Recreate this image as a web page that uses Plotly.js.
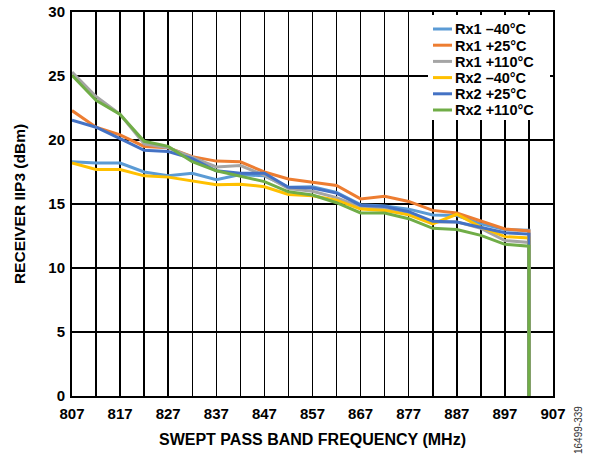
<!DOCTYPE html>
<html>
<head>
<meta charset="utf-8">
<script src="https://cdn.plot.ly/plotly-3.0.1.min.js"></script>
<style>
html,body{margin:0;padding:0;background:#fff;}
#chart{width:589px;height:457px;}
</style>
</head>
<body>
<div id="chart"></div>
<script>
// Frequencies (MHz); last point repeats 902 where every trace drops to 0
const freq = [807,812,817,822,827,832,837,842,847,852,857,862,867,872,877,882,887,892,897,902,902];

const rx1_m40  = [18.3,18.2,18.2,17.5,17.2,17.4,16.9,17.3,17.2,16.3,16.35,15.9,14.95,14.85,14.6,14.15,14.1,13.45,13.0,12.95,0];
const rx1_p25  = [22.3,21.0,20.4,19.5,19.4,18.7,18.35,18.3,17.5,16.95,16.7,16.45,15.4,15.6,15.2,14.5,14.3,13.65,13.05,12.9,0];
const rx1_p110 = [25.3,23.4,22.0,19.7,19.4,18.65,17.9,18.0,17.25,16.2,16.0,15.5,14.75,14.6,14.2,13.6,13.6,13.1,12.15,12.0,0];
const rx2_m40  = [18.2,17.7,17.7,17.2,17.1,16.8,16.5,16.55,16.35,15.75,15.65,15.3,14.6,14.5,14.15,13.45,14.2,13.2,12.45,12.35,0];
const rx2_p25  = [21.55,21.0,20.1,19.2,19.1,18.55,17.6,17.4,17.4,16.3,16.25,15.85,14.9,14.8,14.4,13.65,13.6,13.2,12.75,12.65,0];
const rx2_p110 = [25.05,23.1,22.0,19.9,19.5,18.3,17.6,17.2,16.75,15.95,15.7,15.1,14.3,14.3,13.85,13.1,13.0,12.55,11.85,11.7,0];

const seriesNames = ['Rx1 \u201340\u00b0C','Rx1 +25\u00b0C','Rx1 +110\u00b0C','Rx2 \u201340\u00b0C','Rx2 +25\u00b0C','Rx2 +110\u00b0C'];
const seriesData = [rx1_m40, rx1_p25, rx1_p110, rx2_m40, rx2_p25, rx2_p110];
const seriesColors = ['#5B9BD5','#ED7D31','#A5A5A5','#FFC000','#4472C4','#70AD47'];

const xTickVals = [807,812,817,822,827,832,837,842,847,852,857,862,867,872,877,882,887,892,897,902,907];
const xTickText = ['807','','817','','827','','837','','847','','857','','867','','877','','887','','897','','907'];
const yTickVals = [0,5,10,15,20,25,30];

const FONT = 'Arial, "Liberation Sans", sans-serif';
const W = 589, H = 457;
const M = {l:72, r:36, t:12, b:61};
const PW = W - M.l - M.r, PH = H - M.t - M.b;
// pixel -> paper helpers for the compact legend box
const px = x => (x - M.l) / PW;
const py = y => (H - M.b - y) / PH;

const traces = seriesNames.map((n,i)=>({
  x: freq, y: seriesData[i], name: n, type:'scatter', mode:'lines',
  line:{color:seriesColors[i], width:3}, showlegend:false
}));

// compact legend (white box, line samples, labels)
const shapes = [{
  type:'rect', xref:'paper', yref:'paper', x0:px(428), x1:px(550), y0:py(120), y1:py(15),
  fillcolor:'#fff', line:{width:0}, layer:'above'
}];
const annotations = [];
const rowY0 = 29, rowGap = 16.2;
seriesNames.forEach((n,i)=>{
  const yy = rowY0 + i*rowGap;
  shapes.push({type:'line', xref:'paper', yref:'paper', x0:px(433), x1:px(452), y0:py(yy), y1:py(yy),
    line:{color:seriesColors[i], width:3}, layer:'above'});
  annotations.push({text:'<b>'+n+'</b>', xref:'paper', yref:'paper', x:px(454), y:py(yy+0.5),
    xanchor:'left', yanchor:'middle', showarrow:false, borderpad:0, height:14,
    font:{family:FONT, size:14.5, color:'#000'}});
});
annotations.push({
  text:'16499-339', xref:'paper', yref:'paper', x:px(578), y:py(430),
  xanchor:'center', yanchor:'middle', textangle:-90, showarrow:false,
  font:{family:FONT, size:10, color:'#333'}
});

const layout = {
  width:W, height:H,
  margin:M,
  paper_bgcolor:'#fff', plot_bgcolor:'#fff',
  font:{family:FONT, color:'#000'},
  showlegend:false,
  xaxis:{
    range:[807,907], tickmode:'array', tickvals:xTickVals, ticktext:xTickText,
    showgrid:true, gridcolor:'#000', gridwidth:1.5,
    showline:true, linecolor:'#000', linewidth:2, mirror:true,
    ticks:'', zeroline:false, ticklabelstandoff:3,
    tickfont:{family:FONT, size:15, color:'#000', weight:'bold'},
    title:{text:'SWEPT PASS BAND FREQUENCY (MHz)', font:{family:FONT, size:16, color:'#000', weight:'bold'}, standoff:13}
  },
  yaxis:{
    range:[0,30], tickmode:'array', tickvals:yTickVals,
    showgrid:true, gridcolor:'#000', gridwidth:1.5,
    showline:true, linecolor:'#000', linewidth:2, mirror:true,
    ticks:'', zeroline:false, ticklabelstandoff:2,
    tickfont:{family:FONT, size:15, color:'#000', weight:'bold'},
    title:{text:'RECEIVER IIP3 (dBm)', font:{family:FONT, size:15.5, color:'#000', weight:'bold'}, standoff:19}
  },
  shapes: shapes,
  annotations: annotations
};

Plotly.newPlot('chart', traces, layout, {displayModeBar:false, staticPlot:true});
</script>
</body>
</html>
